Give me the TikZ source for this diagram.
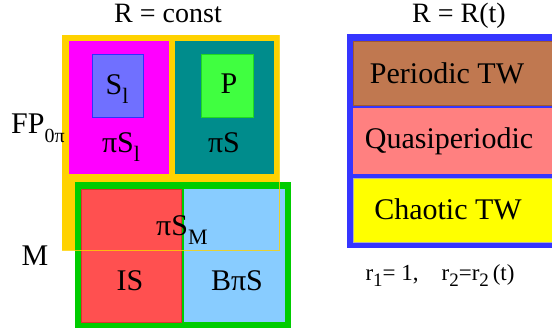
\documentclass[tikz,border=0pt]{standalone}
\usepackage{fontspec}
\setmainfont{Liberation Serif}
\definecolor{gold}{HTML}{FFD200}
\definecolor{mag}{HTML}{FF00FF}
\definecolor{tealc}{HTML}{008C8C}
\definecolor{slfill}{HTML}{7070FF}
\definecolor{slline}{HTML}{3030FF}
\definecolor{pfill}{HTML}{40FF40}
\definecolor{pline}{HTML}{20D820}
\definecolor{grn}{HTML}{00CC00}
\definecolor{redc}{HTML}{FF5050}
\definecolor{redl}{HTML}{E03030}
\definecolor{lblue}{HTML}{88CCFF}
\definecolor{bluef}{HTML}{3535FF}
\definecolor{brown}{HTML}{C07850}
\definecolor{brownl}{HTML}{A05A30}
\definecolor{pink}{HTML}{FF8080}
\definecolor{yel}{HTML}{FFFF00}
\newcommand\mysub[1]{\raisebox{-0.3em}{\fontsize{22}{22}\selectfont #1}}
\newcommand\fpsub[1]{\raisebox{-0.3em}{\fontsize{20}{20}\selectfont #1}}
\newcommand\rsub[1]{\raisebox{-0.3em}{\fontsize{19}{19}\selectfont #1}}
\tikzset{
  lbl/.style={anchor=base, inner sep=0pt, font=\fontsize{30}{30}\selectfont},
  hdr/.style={anchor=base, inner sep=0pt, font=\fontsize{28}{28}\selectfont},
  sml/.style={anchor=base, inner sep=0pt, font=\fontsize{23}{23}\selectfont},
}
\begin{document}
\begin{tikzpicture}[x=1pt,y=-1pt]
\useasboundingbox (0,0) rectangle (552,333);
% left: R = const
\fill[gold] (62,35) rectangle (279,250);
\fill[mag] (69,41) rectangle (169,174);
\fill[tealc] (175,41) rectangle (274,174);
\filldraw[fill=slfill, draw=slline, line width=1pt] (92,54) rectangle (143,117);
\filldraw[fill=pfill, draw=pline, line width=1pt] (201,54) rectangle (253,117);
\fill[grn] (75,182) rectangle (291,328);
\filldraw[fill=redc, draw=redl, line width=0.8pt] (81,189) rectangle (181,322);
\fill[lblue] (184,189) rectangle (285,322);
\draw[gold, line width=1pt, opacity=0.8] (62,35) rectangle (279,250);
% right: R = R(t)
\fill[bluef] (347,34) rectangle (570,248);
\filldraw[fill=brown, draw=brownl, line width=0.8pt] (353,41) rectangle (570,105);
\fill[pink] (353,108) rectangle (570,174);
\filldraw[fill=yel, draw=gray!60, line width=0.6pt] (353,178) rectangle (570,242);
% texts
\node[hdr] (hconst) at (168,22) {R = const};
\node[hdr] (hrt) at (459,22) {R = R(t)};
\node[lbl] (sl) at (117,94) {S\mysub{l}};
\node[lbl] (p) at (229,93) {P};
\node[lbl] (psl) at (121,152) {πS\mysub{l}};
\node[lbl] (ps) at (224,152) {πS};
\node[lbl, anchor=base west] (fp) at (11,133) {FP\fpsub{0π}};
\node[lbl, anchor=base west] (psm) at (156,235) {πS\mysub{M}};
\node[lbl] (is) at (130,290) {IS};
\node[lbl] (bps) at (237,290) {BπS};
\node[lbl] (m) at (35,265) {M};
\node[lbl] (per) at (447,83) {Periodic TW};
\node[lbl] (qp) at (449,148) {Quasiperiodic};
\node[lbl] (ch) at (448,219) {Chaotic TW};
\node[sml] (rr) at (440,280) {r\rsub{1}= 1,\hspace{0.75em} r\rsub{2}=r\rsub{2}\,(t)};
\end{tikzpicture}
\end{document}
